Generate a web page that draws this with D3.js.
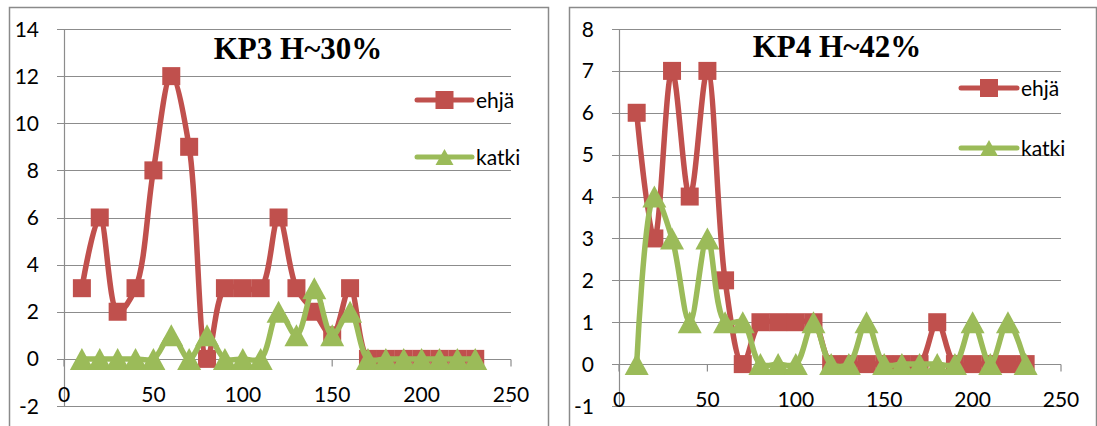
<!DOCTYPE html>
<html>
<head>
<meta charset="utf-8">
<script src="https://cdn.jsdelivr.net/npm/d3@7"></script>
<style>
  body { margin: 0; background: #fff; }
  svg { display: block; }
  .tick-label { font-family: Lato, "Open Sans", sans-serif; font-size: 21px; fill: #000; }
  .chart-title { font-family: "Liberation Serif", "Times New Roman", serif; font-weight: bold; font-size: 31px; fill: #000; }
</style>
</head>
<body>
<svg id="chart" width="1097" height="426"></svg>
<script>
// x positions shared by both panels
const xValues = [10, 20, 30, 40, 50, 60, 70, 80, 90, 100, 110, 120, 130, 140, 150, 160, 170, 180, 190, 200, 210, 220, 230];

// KP3 H~30%
const kp3Ehja  = [3, 6, 2, 3, 8, 12, 9, 0, 3, 3, 3, 6, 3, 2, 1, 3, 0, 0, 0, 0, 0, 0, 0];
const kp3Katki = [0, 0, 0, 0, 0, 1, 0, 1, 0, 0, 0, 2, 1, 3, 1, 2, 0, 0, 0, 0, 0, 0, 0];
const kp3YTicks = [-2, 0, 2, 4, 6, 8, 10, 12, 14];

// KP4 H~42%
const kp4Ehja  = [6, 3, 7, 4, 7, 2, 0, 1, 1, 1, 1, 0, 0, 0, 0, 0, 0, 1, 0, 0, 0, 0, 0];
const kp4Katki = [0, 4, 3, 1, 3, 1, 1, 0, 0, 0, 1, 0, 0, 1, 0, 0, 0, 0, 0, 1, 0, 1, 0];
const kp4YTicks = [-1, 0, 1, 2, 3, 4, 5, 6, 7, 8];

const xTicks = [0, 50, 100, 150, 200, 250];
const seriesNames = ['ehjä', 'katki'];

const RED = '#C0504D';
const GREEN = '#9BBB59';
const GRID = '#8c8c8c';

const svg = d3.select('#chart');
svg.append('rect').attr('width', 1097).attr('height', 426).attr('fill', '#fff');

function drawPanel(cfg) {
  const g = svg.append('g');

  // outer frame
  g.append('rect')
    .attr('x', cfg.frame[0] + 0.5).attr('y', cfg.frame[1] + 0.5)
    .attr('width', cfg.frame[2]).attr('height', 440)
    .attr('fill', 'none').attr('stroke', '#8a8a8a').attr('stroke-width', 1.5);

  const x = d3.scaleLinear().domain([0, 250]).range([cfg.left, cfg.right]);
  const y = d3.scaleLinear().domain(d3.extent(cfg.yTicks)).range([cfg.bottom, cfg.top]);

  // horizontal gridlines (also act as the y tick marks)
  g.selectAll('.grid').data(cfg.yTicks).enter().append('line')
    .attr('x1', cfg.left - 7).attr('x2', cfg.right)
    .attr('y1', d => Math.round(y(d)) + 0.5).attr('y2', d => Math.round(y(d)) + 0.5)
    .attr('stroke', GRID).attr('stroke-width', 1.2);

  // y axis line
  g.append('line')
    .attr('x1', cfg.left + 0.5).attr('x2', cfg.left + 0.5)
    .attr('y1', cfg.top).attr('y2', cfg.bottom)
    .attr('stroke', GRID).attr('stroke-width', 1.2);

  // x tick marks at y = 0
  const y0 = Math.round(y(0)) + 0.5;
  g.selectAll('.xtick').data(xTicks).enter().append('line')
    .attr('x1', d => x(d)).attr('x2', d => x(d))
    .attr('y1', y0).attr('y2', y0 + 7)
    .attr('stroke', GRID).attr('stroke-width', 1.2);

  // y labels
  g.selectAll('.ylab').data(cfg.yTicks).enter().append('text')
    .attr('class', 'tick-label')
    .attr('x', cfg.left - 25).attr('y', d => y(d) + 7.5)
    .attr('text-anchor', 'end')
    .text(d => d);

  // x labels
  g.selectAll('.xlab').data(xTicks).enter().append('text')
    .attr('class', 'tick-label')
    .attr('x', d => x(d)).attr('y', y(0) + 43)
    .attr('text-anchor', 'middle')
    .text(d => d);

  const line = d3.line()
    .x((d, i) => x(xValues[i]))
    .y(d => y(d))
    .curve(d3.curveCatmullRom);

  // ehjä
  g.append('path').attr('d', line(cfg.ehja))
    .attr('fill', 'none').attr('stroke', RED).attr('stroke-width', 5.5)
    .attr('stroke-linejoin', 'round').attr('stroke-linecap', 'round');
  g.selectAll('.sq').data(cfg.ehja).enter().append('rect')
    .attr('x', (d, i) => x(xValues[i]) - 9).attr('y', d => y(d) - 9)
    .attr('width', 18).attr('height', 18).attr('fill', RED);

  // katki
  g.append('path').attr('d', line(cfg.katki))
    .attr('fill', 'none').attr('stroke', GREEN).attr('stroke-width', 5.5)
    .attr('stroke-linejoin', 'round').attr('stroke-linecap', 'round');
  g.selectAll('.tri').data(cfg.katki).enter().append('path')
    .attr('d', (d, i) => {
      const cx = x(xValues[i]), cy = y(d);
      return `M${cx},${cy - 11}L${cx + 12},${cy + 11}L${cx - 12},${cy + 11}Z`;
    })
    .attr('fill', GREEN);

  // title
  g.append('text').attr('class', 'chart-title')
    .attr('x', cfg.titleX).attr('y', cfg.titleY)
    .attr('text-anchor', 'middle')
    .text(cfg.title);

  // legend
  seriesNames.forEach((name, i) => {
    const ly = cfg.legendY[i];
    const col = i === 0 ? RED : GREEN;
    const mid = (cfg.legendX[0] + cfg.legendX[1]) / 2;
    g.append('line')
      .attr('x1', cfg.legendX[0]).attr('x2', cfg.legendX[1])
      .attr('y1', ly).attr('y2', ly)
      .attr('stroke', col).attr('stroke-width', 5).attr('stroke-linecap', 'round');
    if (i === 0) {
      g.append('rect').attr('x', mid - 9).attr('y', ly - 9)
        .attr('width', 18).attr('height', 18).attr('fill', col);
    } else {
      g.append('path')
        .attr('d', `M${mid},${ly - 8}L${mid + 9},${ly + 8}L${mid - 9},${ly + 8}Z`)
        .attr('fill', col);
    }
    g.append('text').attr('class', 'tick-label')
      .attr('x', cfg.legendX[1] + 4).attr('y', ly + 8)
      .text(name);
  });
}

drawPanel({
  frame: [9, 7, 539],
  left: 64, right: 511, top: 29, bottom: 406,
  yTicks: kp3YTicks,
  ehja: kp3Ehja, katki: kp3Katki,
  title: 'KP3 H~30%', titleX: 298, titleY: 59,
  legendX: [417, 472], legendY: [100, 157]
});

drawPanel({
  frame: [569, 7, 527],
  left: 619, right: 1061, top: 29, bottom: 406,
  yTicks: kp4YTicks,
  ehja: kp4Ehja, katki: kp4Katki,
  title: 'KP4 H~42%', titleX: 837, titleY: 57,
  legendX: [961, 1017], legendY: [88, 148]
});
</script>
</body>
</html>
